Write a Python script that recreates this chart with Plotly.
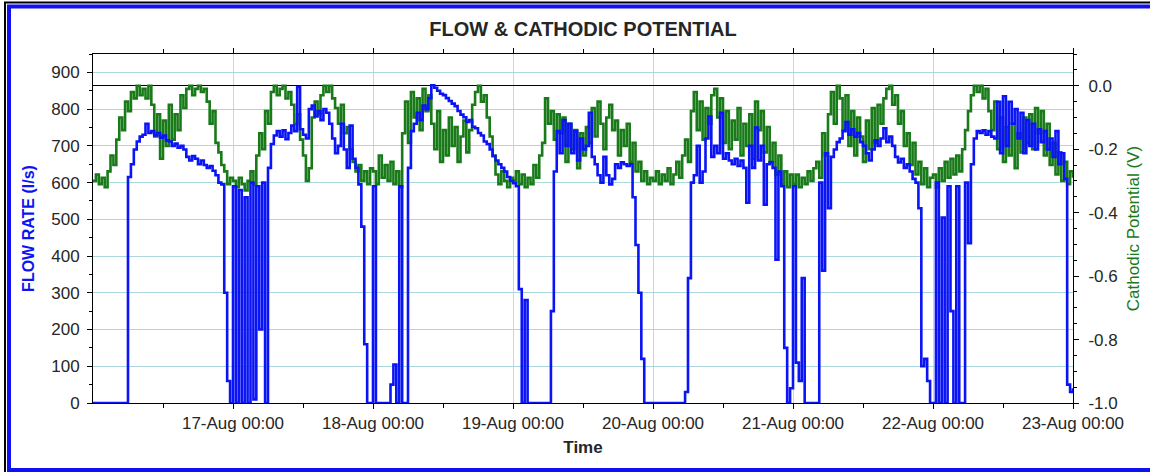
import plotly.graph_objects as go
import pandas as pd

# ---------------- data (half-hourly readings) ----------------
start_time = "2013-08-16 00:00"
step = "30min"

flow_16 = [0,0,0,0,0,0,0,0,0,0,0,0,615,650,690,712,725,730,760,735,740,728,735,722,728,715,712,700,706,695,700,690,670,660,672,665,650,660,648,640,645,632,620,600,595,300,60,0]
flow_17 = [590,0,580,0,560,0,600,10,590,200,600,0,640,705,728,740,725,742,718,735,755,740,860,745,730,720,800,810,780,795,770,800,790,760,720,680,700,760,690,640,755,665,640,595,480,160,0,0]
flow_18 = [590,0,0,0,0,0,50,105,0,590,0,0,640,740,760,790,770,810,800,830,865,858,850,842,838,830,822,815,808,795,785,778,765,770,752,748,735,728,712,705,690,672,660,650,640,630,615,605]
flow_19 = [598,590,310,0,280,0,0,0,0,0,0,0,0,250,630,740,680,770,700,760,680,740,660,720,690,700,790,670,650,620,600,670,620,595,610,650,640,655,650,645,650,560,430,300,120,0,0,0]
flow_20 = [0,0,0,0,0,0,0,0,0,0,0,30,340,600,620,700,600,630,720,780,670,700,680,790,665,680,660,650,665,645,660,640,545,700,640,750,660,700,540,650,655,640,390,630,590,150,0,40]
flow_21 = [590,110,60,340,0,0,0,0,0,600,360,680,530,670,690,710,720,740,765,730,745,725,735,710,700,680,660,690,715,700,720,748,710,725,700,670,655,665,640,650,630,610,600,530,100,120,60,0]
flow_22 = [0,600,0,505,0,590,250,0,590,0,0,600,435,650,720,740,735,742,730,740,725,720,820,680,835,700,820,760,800,720,790,680,770,700,760,690,745,710,740,690,720,670,740,650,680,610,50,30]
flow_end = [40]

pot_16 = [-0.30,-0.28,-0.31,-0.29,-0.32,-0.27,-0.22,-0.25,-0.17,-0.10,-0.14,-0.05,-0.08,-0.02,-0.04,0.0,-0.03,-0.01,-0.04,0.0,-0.06,-0.16,-0.09,-0.23,-0.11,-0.19,-0.06,-0.17,-0.09,-0.14,-0.03,-0.07,-0.01,0.0,-0.03,-0.01,0.0,-0.02,-0.01,-0.05,-0.12,-0.08,-0.18,-0.21,-0.25,-0.27,-0.31,-0.29]
pot_17 = [-0.30,-0.32,-0.29,-0.31,-0.33,-0.30,-0.27,-0.31,-0.22,-0.15,-0.20,-0.08,-0.12,-0.02,0.0,-0.03,-0.01,0.0,-0.04,-0.02,-0.06,-0.12,-0.09,-0.17,-0.22,-0.30,-0.26,-0.10,-0.05,-0.09,-0.03,0.0,-0.02,0.0,-0.04,-0.07,-0.12,-0.06,-0.15,-0.13,-0.20,-0.24,-0.27,-0.25,-0.30,-0.27,-0.31,-0.26]
pot_18 = [-0.27,-0.31,-0.22,-0.29,-0.25,-0.30,-0.24,-0.31,-0.27,-0.32,-0.15,-0.05,-0.18,-0.02,-0.10,-0.04,-0.14,-0.01,-0.08,-0.03,-0.12,-0.20,-0.08,-0.24,-0.14,-0.22,-0.10,-0.19,-0.13,-0.24,-0.16,-0.11,-0.21,-0.14,-0.06,-0.02,0.0,-0.05,-0.03,-0.10,-0.16,-0.22,-0.28,-0.31,-0.27,-0.30,-0.32,-0.29]
pot_19 = [-0.30,-0.27,-0.31,-0.28,-0.32,-0.29,-0.31,-0.25,-0.29,-0.22,-0.18,-0.04,-0.12,-0.08,-0.17,-0.09,-0.15,-0.10,-0.24,-0.12,-0.20,-0.14,-0.26,-0.15,-0.22,-0.13,-0.18,-0.07,-0.16,-0.05,-0.12,-0.20,-0.10,-0.06,-0.14,-0.11,-0.22,-0.14,-0.19,-0.12,-0.24,-0.18,-0.27,-0.24,-0.30,-0.27,-0.31,-0.29]
pot_20 = [-0.30,-0.27,-0.31,-0.28,-0.30,-0.26,-0.31,-0.28,-0.24,-0.29,-0.22,-0.17,-0.24,-0.08,-0.02,-0.14,-0.05,-0.17,-0.07,-0.12,-0.03,-0.01,-0.10,-0.04,-0.18,-0.08,-0.20,-0.11,-0.17,-0.07,-0.22,-0.12,-0.19,-0.09,-0.23,-0.05,-0.14,-0.08,-0.21,-0.13,-0.24,-0.18,-0.28,-0.22,-0.31,-0.27,-0.32,-0.28]
pot_21 = [-0.31,-0.28,-0.32,-0.29,-0.31,-0.27,-0.30,-0.26,-0.24,-0.29,-0.15,-0.22,-0.09,-0.02,-0.12,0.0,-0.04,-0.14,-0.03,-0.19,-0.08,-0.22,-0.10,-0.16,-0.24,-0.11,-0.20,-0.07,-0.18,-0.06,-0.12,-0.04,-0.01,0.0,-0.06,-0.03,-0.12,-0.08,-0.19,-0.15,-0.25,-0.18,-0.28,-0.24,-0.31,-0.26,-0.32,-0.29]
pot_22 = [-0.28,-0.32,-0.26,-0.30,-0.24,-0.29,-0.23,-0.28,-0.22,-0.27,-0.20,-0.14,-0.08,-0.03,0.0,-0.02,0.0,-0.04,-0.01,-0.08,-0.14,-0.05,-0.20,-0.10,-0.24,-0.13,-0.22,-0.12,-0.26,-0.15,-0.21,-0.10,-0.18,-0.09,-0.20,-0.07,-0.15,-0.08,-0.22,-0.12,-0.25,-0.18,-0.28,-0.21,-0.30,-0.24,-0.31,-0.27]
pot_end = [-0.29]

day_ticks = ["2013-08-17", "2013-08-18", "2013-08-19", "2013-08-20",
             "2013-08-21", "2013-08-22", "2013-08-23"]
flow_ticks = [0, 100, 200, 300, 400, 500, 600, 700, 800, 900]
pot_ticks = [-1.0, -0.8, -0.6, -0.4, -0.2, 0.0]
pot_labels = ["-1.0", "-0.8", "-0.6", "-0.4", "-0.2", "0.0"]

# ---------------- build ----------------
flow = flow_16 + flow_17 + flow_18 + flow_19 + flow_20 + flow_21 + flow_22 + flow_end
pot = pot_16 + pot_17 + pot_18 + pot_19 + pot_20 + pot_21 + pot_22 + pot_end
times = pd.date_range(start_time, periods=len(flow), freq=step)

BLUE = "#0a14f5"
GREEN = "#187a18"
TXT = "#262626"
FONT = "Liberation Sans, Arial, sans-serif"

fig = go.Figure()
fig.add_trace(go.Scatter(x=times, y=pot, mode="lines", yaxis="y",
                         line=dict(color=GREEN, width=2.6, shape="hv"),
                         name="Cathodic Potential", showlegend=False))
fig.add_trace(go.Scatter(x=times, y=flow, mode="lines", yaxis="y2",
                         line=dict(color=BLUE, width=2.6, shape="hv"),
                         name="Flow rate", showlegend=False))

fig.update_layout(
    width=1150, height=472,
    margin=dict(l=93, r=77, t=54, b=69, autoexpand=False),
    paper_bgcolor="white", plot_bgcolor="white",
    font=dict(family=FONT, color=TXT, size=17),
    title=dict(text="<b>FLOW &amp; CATHODIC POTENTIAL</b>", x=0.5, xref="paper",
               y=1 - 29 / 472, yref="container", yanchor="middle", xanchor="center",
               font=dict(family=FONT, size=20, color=TXT)),
    xaxis=dict(
        type="date", automargin=False,
        range=[times[0], times[-1]],
        tickvals=day_ticks, tickformat="%d-%b %H:%M",
        tickfont=dict(size=17, color=TXT),
        showgrid=True, gridcolor="#d3d3d3", gridwidth=1,
        showline=True, linecolor="black", linewidth=1, mirror="ticks",
        ticks="outside", ticklen=5, tickcolor="black",
        minor=dict(tickmode="linear", tick0="2013-08-16 12:00", dtick=86400000,
                   ticklen=4, tickcolor="black", showgrid=False),
        title=dict(text="<b>Time</b>", standoff=8,
                   font=dict(size=17, color=TXT)),
        zeroline=False,
    ),
    yaxis=dict(
        side="right", range=[-1.0, 0.1], automargin=False,
        tickvals=pot_ticks, ticktext=pot_labels,
        tickfont=dict(size=17, color=TXT),
        showgrid=False,
        zeroline=True, zerolinecolor="black", zerolinewidth=1.3,
        showline=True, linecolor="black", linewidth=1,
        ticks="outside", ticklen=5, tickcolor="black",
        ticklabelstandoff=6,
        minor=dict(tickmode="linear", tick0=0, dtick=0.05, ticklen=3,
                   tickcolor="black", showgrid=False),
        title=dict(text="Cathodic Potential (V)", standoff=10,
                   font=dict(size=17, color=GREEN)),
    ),
    yaxis2=dict(
        side="left", overlaying="y", range=[0, 950], automargin=False,
        tickvals=flow_ticks,
        tickfont=dict(size=17, color=TXT),
        showgrid=True, gridcolor="#aad8dc", gridwidth=1,
        zeroline=False,
        showline=True, linecolor="black", linewidth=1,
        ticks="outside", ticklen=5, tickcolor="black",
        ticklabelstandoff=4,
        minor=dict(tickmode="linear", tick0=0, dtick=50, ticklen=3,
                   tickcolor="black", showgrid=False),
        title=dict(text="<b>FLOW RATE (l/s)</b>", standoff=12,
                   font=dict(size=16, color=BLUE)),
    ),
)

def px_x(p):
    return (p - 93) / 980.0

def px_y(p):
    return (403 - p) / 349.0

# outer frame of the original image (black edge + blue border)
fig.add_shape(type="rect", xref="paper", yref="paper",
              x0=px_x(5), x1=px_x(1165), y0=px_y(480), y1=px_y(2.5),
              line=dict(color="black", width=2), fillcolor="rgba(0,0,0,0)", layer="above")
fig.add_shape(type="rect", xref="paper", yref="paper",
              x0=px_x(9), x1=px_x(1165), y0=px_y(470), y1=px_y(6.5),
              line=dict(color="#1010f0", width=4), fillcolor="rgba(0,0,0,0)", layer="above")

fig.write_html("out.html", config={"displayModeBar": False},
               post_script="document.body.style.margin='0';")
